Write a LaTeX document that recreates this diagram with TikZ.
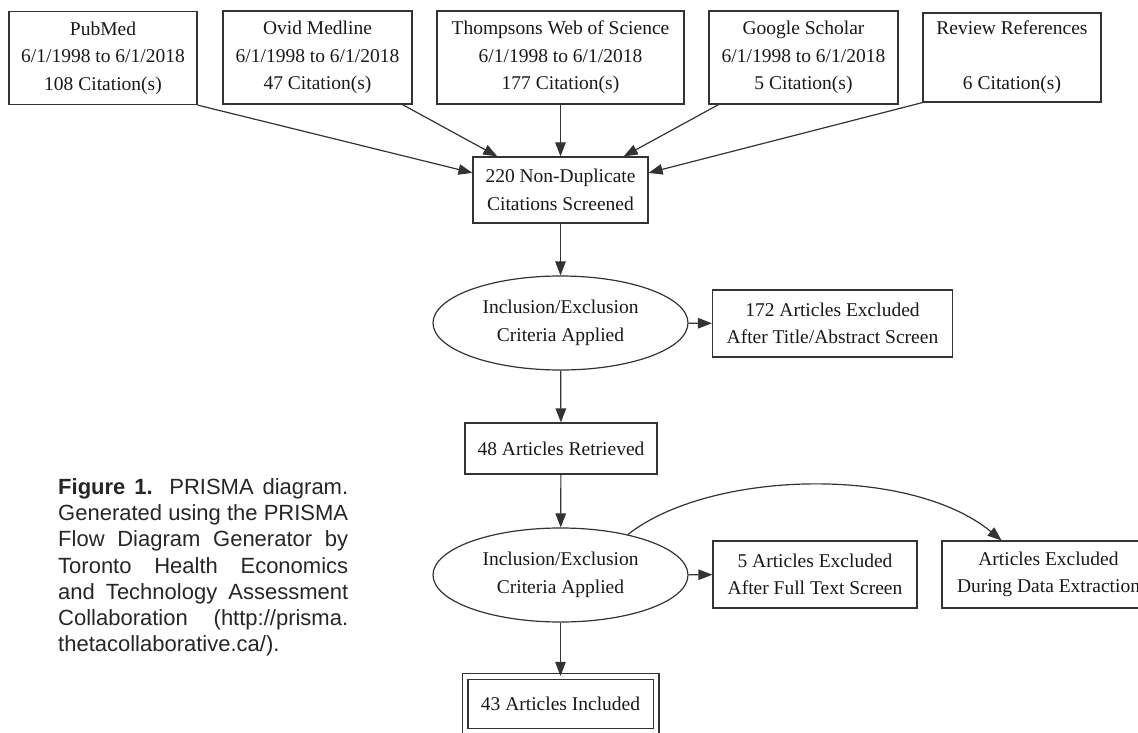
\documentclass[tikz,border=0pt]{standalone}
\usepackage{fontspec}
\setmainfont{Liberation Serif}
\newfontfamily\capfont{Liberation Sans}
\usetikzlibrary{shapes.geometric}
\usetikzlibrary{arrows.meta}
\newcommand{\flowfont}{\fontsize{19.5}{27.5}\selectfont}
\tikzset{box/.style={draw=black!80,line width=1.2pt,inner sep=0pt,align=center,
                     text=black!90,font=\flowfont}}
\tikzset{flow/.style={draw=black!80,line width=1.2pt,-{Triangle[length=14pt,width=10.5pt]}}}

\begin{document}
\begin{tikzpicture}[x=1pt,y=-1pt,
                    fonte/.style={box,minimum width=#1,minimum height=93pt},
                    criterio/.style={box,ellipse,minimum width=255pt,minimum height=94pt},
                    saida/.style={box,minimum width=#1,minimum height=67pt},
                    legenda/.style={anchor=north west,inner sep=0pt,text width=290pt,
                                    align=justify,text=black!85,
                                    font=\capfont\fontsize{22}{26.3}\selectfont}]

		\useasboundingbox (0,0) rectangle (1138,733);
		\clip (0,0) rectangle (1138,733);

		% As fontes de citações
		\node [fonte=188pt] (pubmed) at (103,58)
			{PubMed\\6/1/1998 to 6/1/2018\\108 Citation(s)};
		\node [fonte=189pt] (ovid) at (317.5,57.5)
			{Ovid Medline\\6/1/1998 to 6/1/2018\\47 Citation(s)};
		\node [fonte=247pt] (wos) at (560.5,57.5)
			{Thompsons Web of Science\\6/1/1998 to 6/1/2018\\177 Citation(s)};
		\node [fonte=189pt] (scholar) at (803.5,57.5)
			{Google Scholar\\6/1/1998 to 6/1/2018\\5 Citation(s)};
		\node [fonte=178pt,minimum height=89pt] (review) at (1012,57.5)
			{Review References\\\mbox{}\\6 Citation(s)};

		% Triagem
		\node [box,minimum width=175pt,minimum height=66pt] (dup) at (560.5,190)
			{220 Non-Duplicate\\Citations Screened};
		\node [criterio] (crit1) at (560.5,323) {Inclusion/Exclusion\\Criteria Applied};
		\node [saida=240pt] (excl1) at (832.5,323.5)
			{172 Articles Excluded\\After Title/Abstract Screen};
		\node [box,minimum width=192pt,minimum height=51pt] (retr) at (561,448.5)
			{48 Articles Retrieved};
		\node [criterio] (crit2) at (560.5,575) {Inclusion/Exclusion\\Criteria Applied};
		\node [saida=204pt] (excl2) at (815,574.5)
			{5 Articles Excluded\\After Full Text Screen};
		\node [saida=213pt] (excl3) at (1048.5,574.5)
			{Articles Excluded\\During Data Extraction};

		% Caixa final (borda dupla)
		\node [box,double,double distance=4.6pt,minimum width=191pt,minimum height=55pt]
			(incl) at (560.5,704) {43 Articles Included};

		% Flechas das fontes
		\draw [flow] (pubmed.south east) -- (dup.169);
		\draw [flow] (ovid.331) -- (dup.152);
		\draw [flow] (wos) -- (dup);
		\draw [flow] (scholar.209) -- (dup.28);
		\draw [flow] (review.south west) -- (dup.11);

		% Flechas do fluxo principal
		\draw [flow] (dup) -- (crit1);
		\draw [flow] (crit1) -- (excl1);
		\draw [flow] (crit1) -- (retr);
		\draw [flow] (retr) -- (crit2);
		\draw [flow] (crit2) -- (excl2);
		\draw [flow] (crit2) -- (incl);
		\draw [flow] (crit2.31) .. controls (710,470) and (910,465) .. (excl3.144);

		% Legenda da figura
		\node [legenda] (cap) at (58,478)
			{\textbf{Figure 1.} PRISMA diagram.\linebreak
			 Generated using the PRISMA\linebreak
			 Flow Diagram Generator by\linebreak
			 Toronto Health Economics\linebreak
			 and Technology Assessment\linebreak
			 Collaboration (http://prisma.\linebreak
			 thetacollaborative.ca/).};

\end{tikzpicture}
\end{document}
